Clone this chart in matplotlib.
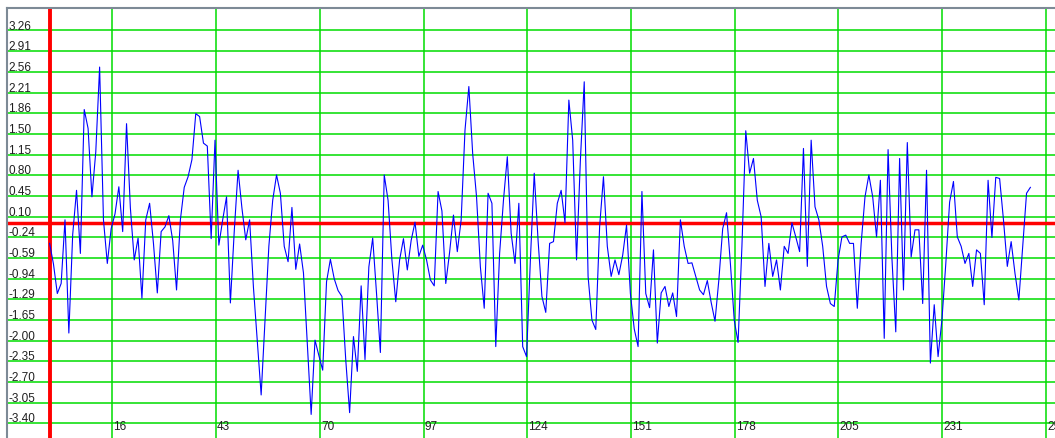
import numpy as np
import matplotlib
matplotlib.use("Agg")
import matplotlib.pyplot as plt

# values, one per x step (0..255)
values = [
    -0.35, -0.70, -1.20, -1.03, 0.05, -1.87, -0.20, 0.55, -0.52, 1.92,
    1.60, 0.44, 1.20, 2.64, 0.05, -0.69, -0.10, 0.15, 0.61, -0.15,
    1.68, 0.25, -0.63, -0.26, -1.28, 0.05, 0.33, -0.35, -1.19, -0.15,
    -0.07, 0.12, -0.30, -1.14, 0.05, 0.60, 0.78, 1.07, 1.85, 1.80,
    1.35, 1.30, -0.27, 1.40, -0.38, 0.05, 0.44, -1.36, -0.15, 0.89,
    0.25, -0.29, 0.05, -1.10, -2.00, -2.92, -1.65, -0.40, 0.38, 0.81,
    0.50, -0.40, -0.66, 0.26, -0.79, -0.36, -0.85, -2.04, -3.25, -1.99,
    -2.25, -2.50, -1.00, -0.62, -0.95, -1.15, -1.25, -2.33, -3.22, -1.93,
    -2.52, -1.07, -2.32, -0.75, -0.26, -1.20, -2.20, 0.81, 0.38, -0.63,
    -1.34, -0.63, -0.27, -0.80, -0.30, 0.01, -0.57, -0.38, -0.63, -0.97,
    -1.07, 0.53, 0.20, -1.03, -0.50, 0.13, -0.49, 0.05, 1.57, 2.31,
    1.17, 0.44, -0.75, -1.45, 0.50, 0.33, -2.10, -0.52, 0.38, 1.12,
    -0.18, -0.69, 0.33, -2.10, -2.27, -0.63, 0.84, -0.30, -1.25, -1.52,
    -0.35, -0.32, 0.33, 0.55, 0.00, 2.08, 1.40, -0.63, 1.06, 2.39,
    -0.91, -1.65, -1.81, -0.07, 0.78, -0.40, -0.91, -0.63, -0.88, -0.55,
    -0.04, -1.20, -1.80, -2.10, 0.53, -1.20, -1.44, -0.46, -2.04, -1.19,
    -1.08, -1.42, -1.19, -1.59, 0.05, -0.40, -0.69, -0.68, -0.91, -1.14,
    -1.22, -0.98, -1.35, -1.67, -0.97, -0.10, 0.17, -0.69, -1.65, -2.03,
    -0.40, 1.56, 0.84, 1.09, 0.38, 0.10, -1.08, -0.35, -0.91, -0.63,
    -1.14, -0.40, -0.52, 0.00, -0.24, -0.49, 1.26, -0.74, 1.40, 0.27,
    0.05, -0.40, -1.08, -1.37, -1.42, -0.63, -0.24, -0.21, -0.35, -0.35,
    -1.45, -0.35, 0.44, 0.81, 0.44, -0.24, 0.72, -1.96, 1.24, -0.60,
    -1.85, 1.09, -1.14, 1.36, -0.58, -0.12, -0.12, -1.37, 0.89, -2.38,
    -1.39, -2.27, -1.65, -0.70, 0.35, 0.70, -0.24, -0.40, -0.69, -0.52,
    -1.08, -0.46, -0.52, -1.39, 0.72, -0.25, 0.77, 0.75, 0.05, -0.74,
    -0.32, -0.86, -1.31, -0.40, 0.50, 0.60,
]

ytick_labels = ["3.26", "2.91", "2.56", "2.21", "1.86", "1.50", "1.15", "0.80",
                "0.45", "0.10", "-0.24", "-0.59", "-0.94", "-1.29", "-1.65",
                "-2.00", "-2.35", "-2.70", "-3.05", "-3.40"]
xtick_labels = ["16", "43", "70", "97", "124", "151", "178", "205", "231", "259"]

x = np.arange(len(values))
ygrid = np.linspace(3.26, -3.40, len(ytick_labels))
xgrid = 16.3 + 26.97 * np.arange(len(xtick_labels))

fig = plt.figure(figsize=(10.55, 4.38), dpi=100)
ax = fig.add_axes([7 / 1055, 0, 1048 / 1055, 430.5 / 438])
ax.set_xlim(-11.08, 261.4)
ax.set_ylim(-3.65, 3.65)

ax.set_xticks(xgrid)
ax.set_yticks(ygrid)
ax.tick_params(length=0, labelbottom=False, labelleft=False)
ax.grid(True, color="#00dd00", lw=1.1)
ax.set_axisbelow(True)

for s in ["right", "bottom"]:
    ax.spines[s].set_visible(False)
for s in ["left", "top"]:
    ax.spines[s].set_color("#7d8a96")
    ax.spines[s].set_linewidth(1.5)

ax.axhline(0, color="#ff0000", lw=2.5, zorder=2)
ax.axvline(0, color="#ff0000", lw=2.8, zorder=2)

ax.plot(x, values, color="#0000ff", lw=0.8, zorder=3)

font = dict(family=["Liberation Sans", "DejaVu Sans"], size=8.5, color="#202020")
for v, lbl in zip(ygrid, ytick_labels):
    ax.annotate(lbl, xy=(0, v), xycoords=("axes fraction", "data"),
                xytext=(1.0, 0.6), textcoords="offset points",
                ha="left", va="baseline", **font)
for p, lbl in zip(xgrid, xtick_labels):
    ax.annotate(lbl, xy=(p, -3.40), xycoords="data",
                xytext=(0.8, -5.2), textcoords="offset points",
                ha="left", va="baseline", annotation_clip=False, **font)

fig.savefig("out.png", dpi=100)
